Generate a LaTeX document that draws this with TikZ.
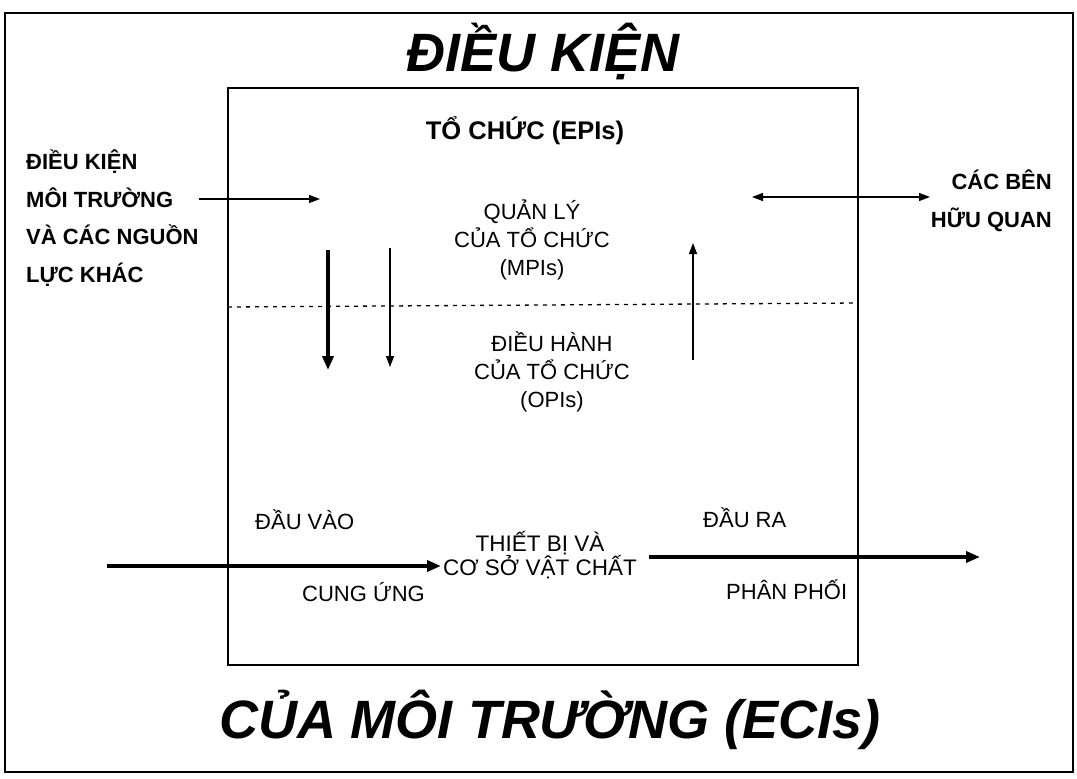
\documentclass[tikz,border=0pt]{standalone}
\usepackage{fontspec}
\setmainfont{Liberation Sans}
\usetikzlibrary{arrows.meta}
\usetikzlibrary{positioning}

\begin{document}
\begin{tikzpicture}[x=1pt,y=-1pt,
	every node/.style={inner sep=0pt},
	lbl/.style={font=\fontsize{22}{28}\selectfont, align=center},
	side/.style={font=\fontsize{22}{37.5}\bfseries\selectfont},
	bigtitle/.style={font=\fontsize{54}{60}\bfseries\itshape\selectfont},
	thinarrow/.style={-{Triangle[length=11pt,width=8pt]}, line width=1.3pt},
	thickarrow/.style={-{Triangle[length=14pt,width=11pt]}, line width=3.6pt}]
	\useasboundingbox (0,0) rectangle (1077,779);
	\draw[line width=1.6pt] (5,13) rectangle (1073,772);
	
	\node[bigtitle] (toptitle) at (543,51) {ĐIỀU KIỆN};
	\node[bigtitle] (bottitle) at (550,720) {CỦA MÔI TRƯỜNG (ECIs)};
	
	\node[draw, line width=1.2pt, minimum width=630pt, minimum height=577pt] (org) at (543,376.5) {};
	\node[font=\fontsize{25.5}{28}\bfseries\selectfont] (epi) at (525,131) {TỔ CHỨC (EPIs)};
	
	\node[side, align=left, anchor=west] (envtext) at (26,218) {ĐIỀU KIỆN\\MÔI TRƯỜNG\\VÀ CÁC NGUỒN\\LỰC KHÁC};
	\node[side, align=right, anchor=east] (stake) at (1052,201) {CÁC BÊN\\HỮU QUAN};
	
	\node[lbl] (mpi) at (532,240) {QUẢN LÝ\\CỦA TỔ CHỨC\\(MPIs)};
	\node[lbl] (opi) at (552,372) {ĐIỀU HÀNH\\CỦA TỔ CHỨC\\(OPIs)};
	
	\node[lbl, anchor=west] (input) at (255,520) {ĐẦU VÀO};
	\node[lbl, anchor=west] (supply) at (302,592) {CUNG ỨNG};
	\node[lbl, font=\fontsize{22.5}{22}\selectfont] (facility) at (540,555) {THIẾT BỊ VÀ\\CƠ SỞ VẬT CHẤT};
	\node[lbl, anchor=west] (output) at (703,518) {ĐẦU RA};
	\node[lbl, anchor=west] (distrib) at (726,590) {PHÂN PHỐI};
	
	% dashed split between the two levels
	\coordinate (splitl) at (228,307);
	\coordinate (splitr) at (858,303);
	\draw[line width=1.3pt, dash pattern=on 4pt off 5pt] (splitl) -- (splitr);
	
	\coordinate (envin) at (320,199);
	\draw[thinarrow] (envtext.east |- envin) -- (envin);
	\coordinate (stakel) at (752,197);
	\coordinate (staker) at (930,197);
	\draw[thinarrow, {Triangle[length=11pt,width=8pt]}-{Triangle[length=11pt,width=8pt]}] (stakel) -- (staker);
	
	\coordinate (down1a) at (328,250);
	\coordinate (down1b) at (328,370);
	\draw[thickarrow] (down1a) -- (down1b);
	\coordinate (down2a) at (390,248);
	\coordinate (down2b) at (390,367);
	\draw[thinarrow] (down2a) -- (down2b);
	\coordinate (upa) at (693,360);
	\coordinate (upb) at (693,243);
	\draw[thinarrow] (upa) -- (upb);
	
	\coordinate (inflow) at (107,566);
	\draw[thickarrow] (inflow) -- ([xshift=-2pt]facility.west |- inflow);
	\coordinate (outflow) at (980,557);
	\draw[thickarrow] ([xshift=12pt]facility.east |- outflow) -- (outflow);
\end{tikzpicture}
\end{document}
